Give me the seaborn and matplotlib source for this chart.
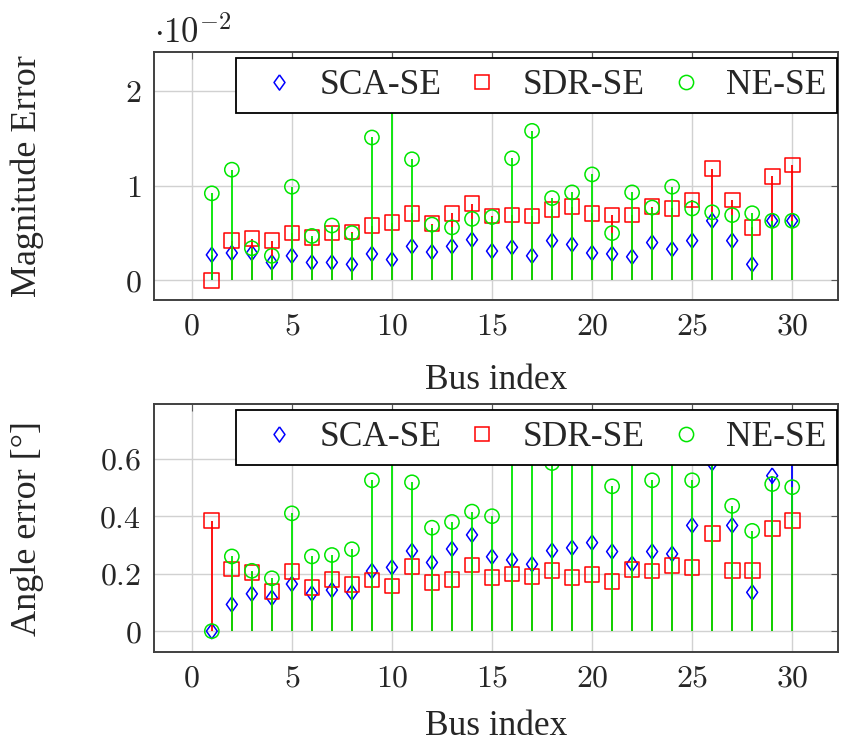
import matplotlib
matplotlib.use("Agg")
import matplotlib.pyplot as plt
import seaborn as sns
import pandas as pd

# bus indices
bus = list(range(1, 31))

# magnitude error, in units of 1e-2
mag_sca = [0.27, 0.29, 0.29, 0.19, 0.26, 0.19, 0.19, 0.17, 0.28, 0.22,
           0.36, 0.30, 0.36, 0.43, 0.31, 0.35, 0.26, 0.42, 0.38, 0.29,
           0.28, 0.25, 0.40, 0.33, 0.42, 0.63, 0.42, 0.17, 0.63, 0.63]
mag_sdr = [0.00, 0.42, 0.44, 0.42, 0.50, 0.45, 0.50, 0.51, 0.58, 0.61,
           0.71, 0.60, 0.71, 0.81, 0.68, 0.69, 0.68, 0.75, 0.78, 0.71,
           0.69, 0.69, 0.78, 0.76, 0.85, 1.18, 0.85, 0.56, 1.10, 1.22]
mag_ne = [0.92, 1.17, 0.34, 0.26, 0.99, 0.47, 0.58, 0.50, 1.51, 2.05,
          1.28, 0.59, 0.56, 0.65, 0.67, 1.29, 1.58, 0.87, 0.93, 1.12,
          0.50, 0.93, 0.77, 0.99, 0.76, 0.72, 0.69, 0.71, 0.63, 0.63]

# angle error, degrees
ang_sca = [0.000, 0.093, 0.130, 0.116, 0.164, 0.131, 0.143, 0.134, 0.209, 0.222,
           0.279, 0.239, 0.286, 0.335, 0.259, 0.248, 0.233, 0.280, 0.290, 0.308,
           0.277, 0.234, 0.277, 0.269, 0.368, 0.585, 0.368, 0.135, 0.541, 0.620]
ang_sdr = [0.385, 0.216, 0.205, 0.137, 0.207, 0.151, 0.180, 0.163, 0.178, 0.157,
           0.225, 0.169, 0.180, 0.230, 0.187, 0.199, 0.190, 0.210, 0.187, 0.198,
           0.172, 0.215, 0.209, 0.228, 0.222, 0.341, 0.210, 0.210, 0.356, 0.385]
ang_ne = [0.000, 0.260, 0.210, 0.184, 0.410, 0.260, 0.265, 0.285, 0.525, 0.700,
          0.518, 0.360, 0.380, 0.416, 0.400, 0.660, 0.680, 0.585, 0.640, 0.720,
          0.504, 0.620, 0.525, 0.690, 0.525, 0.650, 0.436, 0.349, 0.512, 0.501]

methods = ["SCA-SE", "SDR-SE", "NE-SE"]
colors = ["#0000ff", "#ff0000", "#00e600"]
thin_diamond = [(0, 1), (0.72, 0), (0, -1), (-0.72, 0), (0, 1)]
markers = [thin_diamond, "s", "o"]
sizes = [120, 112, 105]

sns.set_theme(style="whitegrid")
plt.rcParams["font.family"] = ["Liberation Serif", "DejaVu Serif"]
plt.rcParams["mathtext.fontset"] = "cm"

fig = plt.figure(figsize=(8.45, 7.47), dpi=100)
ax1 = fig.add_axes([0.182, 0.598, 0.810, 0.332])
ax2 = fig.add_axes([0.182, 0.127, 0.810, 0.332])


def comb(ax, series, xpad):
    z = 2.0
    for name, vals, c, m, s in zip(methods, series, colors, markers, sizes):
        df = pd.DataFrame({"bus": bus, "val": vals})
        ax.vlines(df["bus"], 0, df["val"], color=c, lw=1.3, zorder=z)
        sns.scatterplot(data=df, x="bus", y="val", ax=ax, marker=m, s=s,
                        facecolor="none", edgecolor=c, linewidth=1.1,
                        zorder=z + 0.1, legend=False)
        ax.plot([], [], ls="none", marker=m, ms=s ** 0.5, mfc="none",
                mec=c, mew=1.1, label=name)
        z += 0.2
    ax.set_xlim(-1.9, 32.3)
    ax.set_xticks(range(0, 31, 5))
    ax.set_xticklabels([f"${t}$" for t in range(0, 31, 5)])
    ax.set_xlabel("Bus index", fontsize=25.5, labelpad=xpad)
    ax.tick_params(direction="in", length=5, width=0.8, color="0.35",
                   top=True, right=True, labelsize=23, pad=9)
    ax.grid(True, color="0.82", lw=1.0)
    ax.set_axisbelow(True)
    for sp in ax.spines.values():
        sp.set_color("0.25")
        sp.set_linewidth(1.4)
    leg = ax.legend(loc="upper right", bbox_to_anchor=(0.9985, 0.975), ncol=3,
                    fontsize=25.5, frameon=True, fancybox=False, framealpha=1,
                    edgecolor="black", borderpad=0.3, handlelength=1.8,
                    handletextpad=0.24, columnspacing=0.26, borderaxespad=0)
    leg.get_frame().set_linewidth(1.3)
    ax.yaxis.set_label_coords(-0.16, 0.5)


comb(ax1, [mag_sca, mag_sdr, mag_ne], 16)
ax1.set_ylim(-0.21, 2.41)
ax1.set_yticks([0, 1, 2])
ax1.set_yticklabels(["$0$", "$1$", "$2$"])
ax1.set_ylabel("Magnitude Error", fontsize=26)
ax1.text(0.0, 1.04, r"$\cdot 10^{-2}$", transform=ax1.transAxes,
         fontsize=25, ha="left", va="baseline")

comb(ax2, [ang_sca, ang_sdr, ang_ne], 12)
ax2.set_ylim(-0.073, 0.79)
ax2.set_yticks([0, 0.2, 0.4, 0.6])
ax2.set_yticklabels(["$0$", "$0.2$", "$0.4$", "$0.6$"])
ax2.set_ylabel("Angle error [°]", fontsize=26)

fig.savefig("out.png", dpi=100)
